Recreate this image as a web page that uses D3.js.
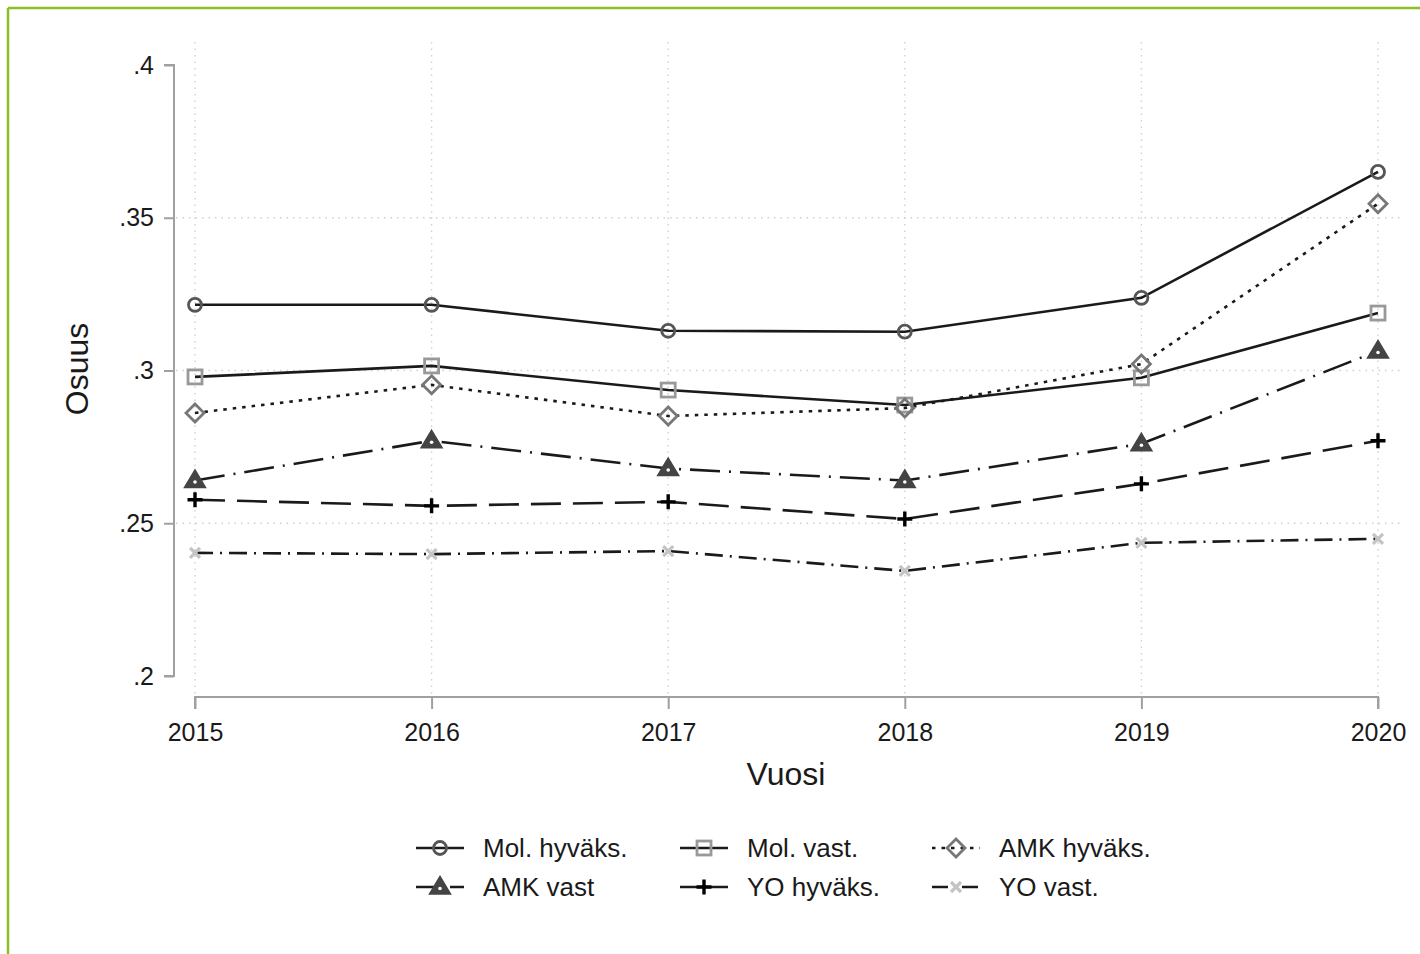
<!DOCTYPE html>
<html>
<head>
<meta charset="utf-8">
<script src="https://cdn.jsdelivr.net/npm/d3@7"></script>
<style>
html,body{margin:0;padding:0;background:#fff;}
svg{display:block;font-family:"Liberation Sans",Arial,sans-serif;}
</style>
</head>
<body>
<svg id="chart" width="1420" height="954"></svg>
<script>
const years = [2015, 2016, 2017, 2018, 2019, 2020];
const yTicks = [0.2, 0.25, 0.3, 0.35, 0.4];
const yTickLabels = [".2", ".25", ".3", ".35", ".4"];
const seriesNames = ["Mol. hyväks.", "Mol. vast.", "AMK hyväks.", "AMK vast", "YO hyväks.", "YO vast."];
const molHyvaks = [0.3215, 0.3215, 0.3130, 0.3127, 0.3238, 0.3650];
const molVast   = [0.2979, 0.3015, 0.2936, 0.2887, 0.2976, 0.3188];
const amkHyvaks = [0.2861, 0.2953, 0.2851, 0.2877, 0.3021, 0.3546];
const amkVast   = [0.2640, 0.2770, 0.2679, 0.2640, 0.2760, 0.3064];
const yoHyvaks  = [0.2577, 0.2557, 0.2570, 0.2514, 0.2629, 0.2770];
const yoVast    = [0.2403, 0.2399, 0.2409, 0.2344, 0.2436, 0.2449];

const seriesValues = [molHyvaks, molVast, amkHyvaks, amkVast, yoHyvaks, yoVast];
const styles = [
  {dash: null, marker: "circle", mc: "#555"},
  {dash: null, marker: "square", mc: "#999"},
  {dash: "3.5,6", marker: "diamond", mc: "#777"},
  {dash: "30,9,2,9", marker: "triangle", mc: "#444"},
  {dash: "30,12", marker: "plus", mc: "#000"},
  {dash: "18,7,2,7", marker: "cross", mc: "#c4c4c4"}
];
const legendDash = [null, null, "3.5,6", "20,6,2,6", null, "16,6,2,6"];

const svg = d3.select("#chart");

// green frame
svg.append("line").attr("x1", 8).attr("x2", 1420).attr("y1", 8).attr("y2", 8)
  .attr("stroke", "#8cbf26").attr("stroke-width", 2.5);
svg.append("line").attr("x1", 8).attr("x2", 8).attr("y1", 8).attr("y2", 954)
  .attr("stroke", "#8cbf26").attr("stroke-width", 2.5);

const x = d3.scaleLinear().domain([2015, 2020]).range([195, 1378]);
const y = d3.scaleLinear().domain([0.2, 0.4]).range([676, 65]);

// grid
const g = svg.append("g");
g.selectAll(".hg").data([0.25, 0.3, 0.35]).join("line")
  .attr("x1", 176).attr("x2", 1400).attr("y1", d => y(d)).attr("y2", d => y(d))
  .attr("stroke", "#d0d0d0").attr("stroke-width", 1.4).attr("stroke-dasharray", "1.5,5");
g.selectAll(".vg").data(years).join("line")
  .attr("x1", d => x(d)).attr("x2", d => x(d)).attr("y1", 42).attr("y2", 695)
  .attr("stroke", "#d0d0d0").attr("stroke-width", 1.4).attr("stroke-dasharray", "1.5,5");

// y axis
const yAxis = d3.axisLeft(y).tickValues(yTicks).tickFormat((d, i) => yTickLabels[i]).tickSize(10).tickPadding(10);
const ya = svg.append("g").attr("transform", "translate(174,0)").call(yAxis);
ya.select(".domain").attr("stroke", "#a0a0a0").attr("stroke-width", 2).attr("d", `M-10,${y(0.4)}H0V${y(0.2)}H-10`);
ya.selectAll(".tick line").attr("stroke", "#a0a0a0").attr("stroke-width", 2);
ya.selectAll(".tick text").attr("font-size", 25).attr("fill", "#1a1a1a").attr("font-family", "Liberation Sans, Arial, sans-serif");

// x axis
const xAxis = d3.axisBottom(x).tickValues(years).tickFormat(d3.format("d")).tickSize(12).tickPadding(14);
const xa = svg.append("g").attr("transform", "translate(0,697)").call(xAxis);
xa.select(".domain").attr("stroke", "#a0a0a0").attr("stroke-width", 2).attr("d", `M${x(2015)},12V0H${x(2020)}V12`);
xa.selectAll(".tick line").attr("stroke", "#a0a0a0").attr("stroke-width", 2);
xa.selectAll(".tick text").attr("font-size", 25).attr("fill", "#1a1a1a").attr("font-family", "Liberation Sans, Arial, sans-serif");

// axis titles
svg.append("text").attr("x", 786).attr("y", 785).attr("text-anchor", "middle")
  .attr("font-size", 32).attr("fill", "#1a1a1a").text("Vuosi");
svg.append("text").attr("transform", "translate(88,369) rotate(-90)").attr("text-anchor", "middle")
  .attr("font-size", 32).attr("fill", "#1a1a1a").text("Osuus");

function drawMarker(sel, type, color, cx, cy) {
  if (type === "circle") {
    sel.append("circle").attr("cx", cx).attr("cy", cy).attr("r", 6.5)
      .attr("fill", "none").attr("stroke", color).attr("stroke-width", 2.8);
  } else if (type === "square") {
    sel.append("rect").attr("x", cx - 7).attr("y", cy - 7).attr("width", 14).attr("height", 14)
      .attr("fill", "none").attr("stroke", color).attr("stroke-width", 2.8);
  } else if (type === "diamond") {
    sel.append("path").attr("d", `M${cx},${cy - 9}L${cx + 9},${cy}L${cx},${cy + 9}L${cx - 9},${cy}Z`)
      .attr("fill", "none").attr("stroke", color).attr("stroke-width", 2.8);
  } else if (type === "triangle") {
    sel.append("path").attr("d", `M${cx},${cy - 10.5}L${cx + 10.5},${cy + 7}L${cx - 10.5},${cy + 7}Z`)
      .attr("fill", color).attr("stroke", color).attr("stroke-width", 1.5);
    sel.append("circle").attr("cx", cx).attr("cy", cy + 1.5).attr("r", 1.8).attr("fill", "#fff");
  } else if (type === "plus") {
    sel.append("path").attr("d", `M${cx - 7.5},${cy}H${cx + 7.5}M${cx},${cy - 7.5}V${cy + 7.5}`)
      .attr("stroke", color).attr("stroke-width", 3.4);
  } else if (type === "cross") {
    sel.append("path").attr("d", `M${cx - 5},${cy - 5}L${cx + 5},${cy + 5}M${cx - 5},${cy + 5}L${cx + 5},${cy - 5}`)
      .attr("stroke", color).attr("stroke-width", 3.2);
  }
}

const line = d3.line().x((d, i) => x(years[i])).y(d => y(d));
const plot = svg.append("g");
seriesValues.forEach((vals, k) => {
  const st = styles[k];
  plot.append("path").datum(vals).attr("d", line).attr("fill", "none")
    .attr("stroke", "#1a1a1a").attr("stroke-width", 2.6)
    .attr("stroke-dasharray", st.dash);
});
seriesValues.forEach((vals, k) => {
  const st = styles[k];
  const mg = plot.append("g");
  vals.forEach((v, i) => drawMarker(mg, st.marker, st.mc, x(years[i]), y(v)));
});

// legend
const legCols = [[416, 483], [680, 747], [932, 999]];
const legRows = [848, 887];
seriesNames.forEach((name, k) => {
  const col = k % 3, row = Math.floor(k / 3);
  const [lx, tx] = legCols[col];
  const ly = legRows[row];
  const st = styles[k];
  const lg = svg.append("g");
  lg.append("line").attr("x1", lx).attr("x2", lx + 48).attr("y1", ly).attr("y2", ly)
    .attr("stroke", "#1a1a1a").attr("stroke-width", 2.6)
    .attr("stroke-dasharray", legendDash[k]);
  drawMarker(lg, st.marker, st.mc, lx + 24, ly);
  lg.append("text").attr("x", tx).attr("y", ly + 9).attr("font-size", 26).attr("fill", "#1a1a1a").text(name);
});
</script>
</body>
</html>
